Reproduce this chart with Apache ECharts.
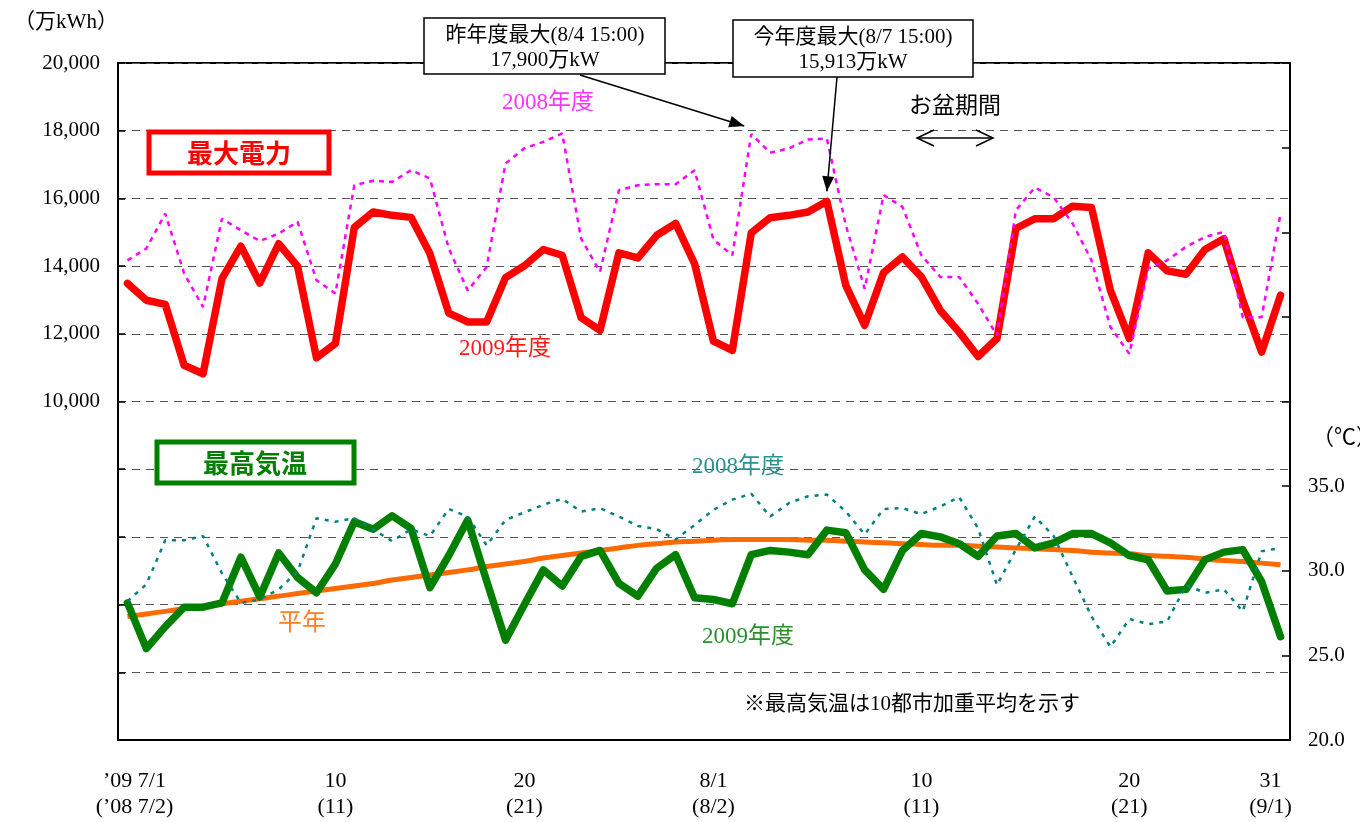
<!DOCTYPE html>
<html><head><meta charset="utf-8">
<script src="https://cdn.jsdelivr.net/npm/echarts@6/dist/echarts.min.js"></script>
<style>html,body{margin:0;padding:0;background:#fff}#c{width:1360px;height:822px}</style>
</head><body><div id="c"></div>
<script>
// ---- data ----
const days = [];
for (let d = 1; d <= 31; d++) days.push('7/' + d);
for (let d = 1; d <= 31; d++) days.push('8/' + d);

const power2009 = [13490,12990,12870,11070,10820,13630,14590,13500,14660,13990,11290,11710,15140,15600,15500,15440,14370,12610,12350,12350,13660,14010,14490,14320,12480,12100,14390,14240,14910,15260,14070,11780,11510,14980,15430,15500,15600,15913,13430,12250,13810,14270,13680,12690,12050,11330,11860,15110,15400,15400,15770,15730,13280,11860,14390,13860,13760,14490,14810,12990,11460,13140];
const power2008 = [14170,14520,15550,13780,12790,15400,15060,14740,14960,15310,13580,13190,16390,16520,16490,16830,16590,14520,13280,13970,17030,17480,17670,17920,14810,13830,16240,16390,16420,16420,16830,14780,14320,17900,17350,17480,17740,17770,15210,13330,16100,15750,14320,13680,13680,12890,11950,15650,16320,16030,15260,14170,12200,11410,13930,14170,14570,14860,15010,12490,12490,15550];
const temp2009 = [28.1,25.4,26.7,27.85,27.85,28.1,30.8,28.45,31.05,29.6,28.7,30.4,32.9,32.45,33.25,32.5,29.0,30.9,33.0,29.4,25.9,28.0,30.05,29.1,30.85,31.2,29.25,28.5,30.15,30.95,28.4,28.3,28.05,30.95,31.2,31.1,30.95,32.4,32.25,30.05,28.9,31.2,32.2,32.0,31.6,30.85,32.05,32.2,31.35,31.65,32.2,32.2,31.65,30.9,30.65,28.8,28.9,30.65,31.1,31.25,29.35,26.1];
const temp2008 = [28.2,29.2,31.8,31.8,32.05,29.85,28.1,28.3,28.9,29.95,33.1,32.9,33.1,32.45,31.75,32.45,32.05,33.65,33.2,31.5,33.0,33.45,33.9,34.25,33.5,33.7,33.2,32.65,32.45,31.85,32.7,33.6,34.2,34.55,33.2,34.0,34.4,34.5,33.5,32.15,33.65,33.7,33.35,33.8,34.35,32.5,29.15,31.25,33.2,32.05,29.65,27.3,25.5,27.15,26.85,27.0,29.15,28.7,28.9,27.6,31.15,31.35];
const tempNormal = [27.3,27.45,27.6,27.75,27.9,28.05,28.2,28.35,28.5,28.65,28.8,28.95,29.1,29.25,29.45,29.6,29.75,29.9,30.05,30.25,30.4,30.55,30.75,30.9,31.05,31.2,31.35,31.5,31.6,31.7,31.75,31.8,31.85,31.85,31.85,31.85,31.8,31.8,31.75,31.7,31.65,31.6,31.55,31.5,31.5,31.45,31.4,31.35,31.3,31.25,31.2,31.1,31.05,31.0,30.9,30.85,30.8,30.7,30.6,30.55,30.45,30.35];

const xTickIndex = [0, 11, 21, 31, 42, 53, 61];
const xTickLabels = ['’09 7/1\n(’08 7/2)', '10\n(11)', '20\n(21)', '8/1\n(8/2)', '10\n(11)', '20\n(21)', '31\n(9/1)'];

const SERIF = "'Liberation Serif','Noto Sans CJK JP',serif";
const CJK = "'Noto Sans CJK JP','Liberation Serif',sans-serif";

const chart = echarts.init(document.getElementById('c'));
const option = {
  animation: false,
  backgroundColor: '#fff',
  grid: { left: 118, right: 70, top: 63, bottom: 82, show: true, borderColor: '#000', borderWidth: 2, backgroundColor: 'transparent' },
  xAxis: {
    type: 'category', data: days, boundaryGap: true,
    axisLine: { lineStyle: { color: '#000', width: 2 } },
    axisTick: { show: false },
    axisLabel: {
      interval: (i) => xTickIndex.indexOf(i) >= 0,
      formatter: (v, i) => {
        const k = xTickIndex.indexOf(i);
        if (k < 0) return '';
        const rs = k === 0 ? 'first' : (k === xTickIndex.length - 1 ? 'last' : 'mid');
        return xTickLabels[k].split('\n').map(s => '{' + rs + '|' + s + '}').join('\n');
      },
      rich: {
        first: { fontFamily: SERIF, fontSize: 22, color: '#000', lineHeight: 26, padding: [0, 0, 0, 14] },
        mid: { fontFamily: SERIF, fontSize: 22, color: '#000', lineHeight: 26 },
        last: { fontFamily: SERIF, fontSize: 22, color: '#000', lineHeight: 26, padding: [0, 20, 0, 0] }
      },
      fontFamily: SERIF, fontSize: 22, color: '#000', lineHeight: 26, margin: 28
    }
  },
  yAxis: [
    {
      type: 'value', min: 0, max: 20000, interval: 2000, position: 'left',
      axisLine: { show: true, lineStyle: { color: '#000', width: 2 } },
      axisTick: { show: true, inside: true, length: 7, lineStyle: { color: '#000', width: 1.5 } },
      axisLabel: { formatter: (v) => v >= 10000 ? v.toLocaleString('en-US') : '', fontFamily: SERIF, fontSize: 21, color: '#000', margin: 18 },
      splitLine: { show: true, lineStyle: { color: '#555', width: 1.2, type: [8, 6] } }
    },
    {
      type: 'value', min: 20, max: 60, interval: 5, position: 'right',
      axisLine: { show: true, lineStyle: { color: '#000', width: 2 } },
      axisTick: { show: true, inside: true, length: 8, lineStyle: { color: '#000', width: 1.5 } },
      axisLabel: { formatter: (v) => v <= 35 ? v.toFixed(1) : '', fontFamily: SERIF, fontSize: 21, color: '#000', margin: 18 },
      splitLine: { show: false }
    }
  ],
  series: [
    { name: '最大電力2009', type: 'line', yAxisIndex: 0, data: power2009, symbol: 'none', z: 3,
      lineStyle: { color: '#ff0000', width: 7.5, join: 'round', cap: 'round' } },
    { name: '最大電力2008', type: 'line', yAxisIndex: 0, data: power2008, symbol: 'none', z: 4,
      lineStyle: { color: '#ff00ff', width: 2.5, type: [5, 5] } },
    { name: '平年', type: 'line', yAxisIndex: 1, data: tempNormal, symbol: 'none', smooth: true, z: 3,
      lineStyle: { color: '#ff6a00', width: 5 } },
    { name: '最高気温2009', type: 'line', yAxisIndex: 1, data: temp2009, symbol: 'none', z: 4,
      lineStyle: { color: '#007f00', width: 7.5, join: 'round', cap: 'round' } },
    { name: '最高気温2008', type: 'line', yAxisIndex: 1, data: temp2008, symbol: 'none', z: 5,
      lineStyle: { color: '#008080', width: 2.5, type: [4, 6] } }
  ]
};
chart.setOption(option);

function arrowHead(tip, from, L, w) {
  const dx = tip[0] - from[0], dy = tip[1] - from[1];
  const len = Math.sqrt(dx * dx + dy * dy);
  const ux = dx / len, uy = dy / len, nx = -uy, ny = ux;
  return [tip, [tip[0] - ux * L + nx * w, tip[1] - uy * L + ny * w], [tip[0] - ux * L - nx * w, tip[1] - uy * L - ny * w]];
}
function txt(text, x, y, color, size) {
  return { type: 'text', z: 100, style: { text: text, x: x, y: y, fill: color, fontSize: size, fontFamily: SERIF, textAlign: 'center', textVerticalAlign: 'middle' } };
}

const pPrev = chart.convertToPixel({ xAxisIndex: 0, yAxisIndex: 0 }, [33, power2008[33]]);
const pCur = chart.convertToPixel({ xAxisIndex: 0, yAxisIndex: 0 }, [37, power2009[37]]);
const tip1 = [pPrev[0] - 7, pPrev[1] - 8];
const from1 = [580, 75];
const tip2 = [pCur[0], pCur[1] - 10];
const from2 = [837, 77];

const g = [
  // legend boxes
  { type: 'rect', z: 90, shape: { x: 149, y: 132, width: 180, height: 41 }, style: { fill: '#fff', stroke: '#ff0000', lineWidth: 5 } },
  { type: 'text', z: 100, style: { text: '最大電力', x: 239, y: 153, fill: '#ff0000', fontSize: 26, fontFamily: CJK, fontWeight: 'bold', textAlign: 'center', textVerticalAlign: 'middle' } },
  { type: 'rect', z: 90, shape: { x: 157, y: 442, width: 197, height: 41 }, style: { fill: '#fff', stroke: '#007f00', lineWidth: 5 } },
  { type: 'text', z: 100, style: { text: '最高気温', x: 255, y: 463, fill: '#007f00', fontSize: 26, fontFamily: CJK, fontWeight: 'bold', textAlign: 'center', textVerticalAlign: 'middle' } },
  // series labels
  txt('2008年度', 548, 103, '#ff33ff', 23),
  txt('2009年度', 505, 349, '#ff1a1a', 23),
  txt('2008年度', 738, 467, '#2a9090', 23),
  txt('2009年度', 748, 637, '#2a8f2a', 23),
  txt('平年', 302, 624, '#ff7f27', 24),
  txt('お盆期間', 955, 107, '#000', 23),
  txt('※最高気温は10都市加重平均を示す', 912, 704, '#000', 21),
  // axis names
  { type: 'text', z: 100, style: { text: '（万kWh）', x: 66, y: 22, fill: '#000', fontSize: 21, fontFamily: SERIF, textAlign: 'center', textVerticalAlign: 'middle' } },
  { type: 'text', z: 100, style: { text: '（℃）', x: 1312, y: 438, fill: '#000', fontSize: 22, fontFamily: SERIF, textAlign: 'left', textVerticalAlign: 'middle' } },
  // double arrow for Obon
  { type: 'line', z: 100, shape: { x1: 917, y1: 138, x2: 993, y2: 138 }, style: { stroke: '#000', lineWidth: 1.5 } },
  { type: 'polyline', z: 100, shape: { points: [[934, 130], [917, 138], [934, 146]] }, style: { stroke: '#000', lineWidth: 1.5, fill: null } },
  { type: 'polyline', z: 100, shape: { points: [[976, 130], [993, 138], [976, 146]] }, style: { stroke: '#000', lineWidth: 1.5, fill: null } },
  // annotation arrows
  { type: 'line', z: 95, shape: { x1: from1[0], y1: from1[1], x2: tip1[0], y2: tip1[1] }, style: { stroke: '#000', lineWidth: 1.5 } },
  { type: 'polygon', z: 95, shape: { points: arrowHead(tip1, from1, 15, 6) }, style: { fill: '#000' } },
  { type: 'line', z: 95, shape: { x1: from2[0], y1: from2[1], x2: tip2[0], y2: tip2[1] }, style: { stroke: '#000', lineWidth: 1.5 } },
  { type: 'polygon', z: 95, shape: { points: arrowHead(tip2, from2, 15, 6) }, style: { fill: '#000' } },
  // annotation boxes
  { type: 'rect', z: 98, shape: { x: 424, y: 18, width: 241, height: 56 }, style: { fill: '#fff', stroke: '#000', lineWidth: 1.5 } },
  txt('昨年度最大(8/4 15:00)', 545, 35, '#000', 21),
  txt('17,900万kW', 545, 60, '#000', 21),
  { type: 'rect', z: 98, shape: { x: 733, y: 20, width: 240, height: 57 }, style: { fill: '#fff', stroke: '#000', lineWidth: 1.5 } },
  txt('今年度最大(8/7 15:00)', 853, 37, '#000', 21),
  txt('15,913万kW', 853, 62, '#000', 21)
];
chart.setOption({ graphic: g });
</script>
</body></html>
